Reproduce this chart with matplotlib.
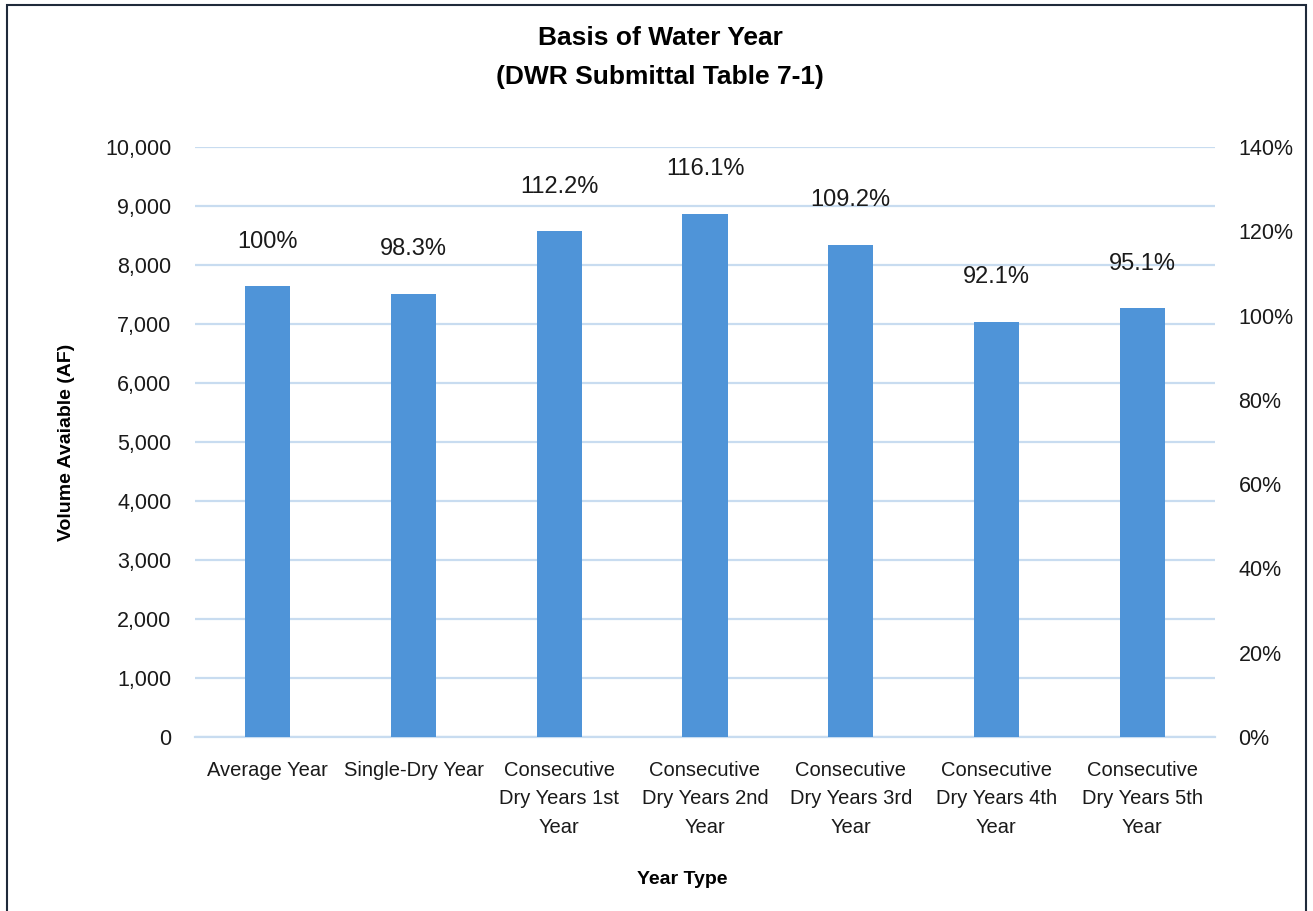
import matplotlib.pyplot as plt
from matplotlib.ticker import FuncFormatter
from matplotlib.patches import Rectangle

year_types = ['Average Year', 'Single-Dry Year',
              'Consecutive\nDry Years 1st\nYear', 'Consecutive\nDry Years 2nd\nYear',
              'Consecutive\nDry Years 3rd\nYear', 'Consecutive\nDry Years 4th\nYear',
              'Consecutive\nDry Years 5th\nYear']
volume_af = [7640, 7510, 8572, 8870, 8343, 7036, 7266]

bar_color = '#4F94D8'
grid_color = '#C8DCF0'
text_color = '#1a1a1a'
plt.rcParams['font.family'] = ['Liberation Sans', 'DejaVu Sans']

fig = plt.figure(figsize=(13.13, 9.11), dpi=100)
ax = fig.add_axes([195 / 1313, 1 - 737 / 911, 1020 / 1313, 590 / 911])
ax2 = ax.twinx()

x = range(len(year_types))
ax.bar(x, volume_af, width=0.31, color=bar_color, zorder=3)

# percent of the average year, written above each bar
for i, v in enumerate(volume_af):
    pct = v / volume_af[0] * 100
    txt = '100%' if i == 0 else f'{pct:.1f}%'
    ax.annotate(txt, (i, v), xytext=(0, 32), textcoords='offset points',
                ha='center', va='center', fontsize=17, color=text_color)

ax.set_xlim(-0.5, len(year_types) - 0.5)
ax.set_ylim(0, 10000)
ax.set_yticks(range(0, 10001, 1000))
ax.yaxis.set_major_formatter(FuncFormatter(lambda v, p: f'{v:,.0f}'))
ax.set_xticks(list(x))
ax.set_xticklabels(year_types, fontsize=14.5, color=text_color, linespacing=1.65)
ax.tick_params(axis='y', labelsize=15.5, colors=text_color, length=0, pad=17)
ax.tick_params(axis='x', length=0, pad=17)
ax.grid(axis='y', color=grid_color, linewidth=1.6, zorder=0)
for s in ax.spines.values():
    s.set_visible(False)
ax.spines['bottom'].set_visible(True)
ax.spines['bottom'].set_color(grid_color)
ax.spines['bottom'].set_linewidth(1.6)

ax2.set_ylim(0, 1.4)
ax2.set_yticks([i * 0.2 for i in range(8)])
ax2.yaxis.set_major_formatter(FuncFormatter(lambda v, p: f'{v * 100:.0f}%'))
ax2.tick_params(axis='y', labelsize=15.5, colors=text_color, length=0, pad=17)
for s in ax2.spines.values():
    s.set_visible(False)

ax.set_ylabel('Volume Avaiable (AF)', fontsize=14, fontweight='bold', labelpad=22)
ax.set_xlabel('Year Type', fontsize=14, fontweight='bold')
ax.xaxis.set_label_coords(0.478, 1 - (880 - 147) / 590, transform=ax.transAxes)
ax.xaxis.label.set_va('center')

fig.text(660 / 1313, 1 - 38 / 911, 'Basis of Water Year', ha='center', va='center',
         fontsize=19, fontweight='bold')
fig.text(660 / 1313, 1 - 77 / 911, '(DWR Submittal Table 7-1)', ha='center', va='center',
         fontsize=19, fontweight='bold')

# chart frame
fig.patches.append(Rectangle((7 / 1313, -0.01), 1299 / 1313, 1 - 5 / 911 + 0.01,
                             transform=fig.transFigure, fill=False,
                             edgecolor='#1F2A3A', linewidth=1.5))

fig.savefig('out.png', dpi=100)
